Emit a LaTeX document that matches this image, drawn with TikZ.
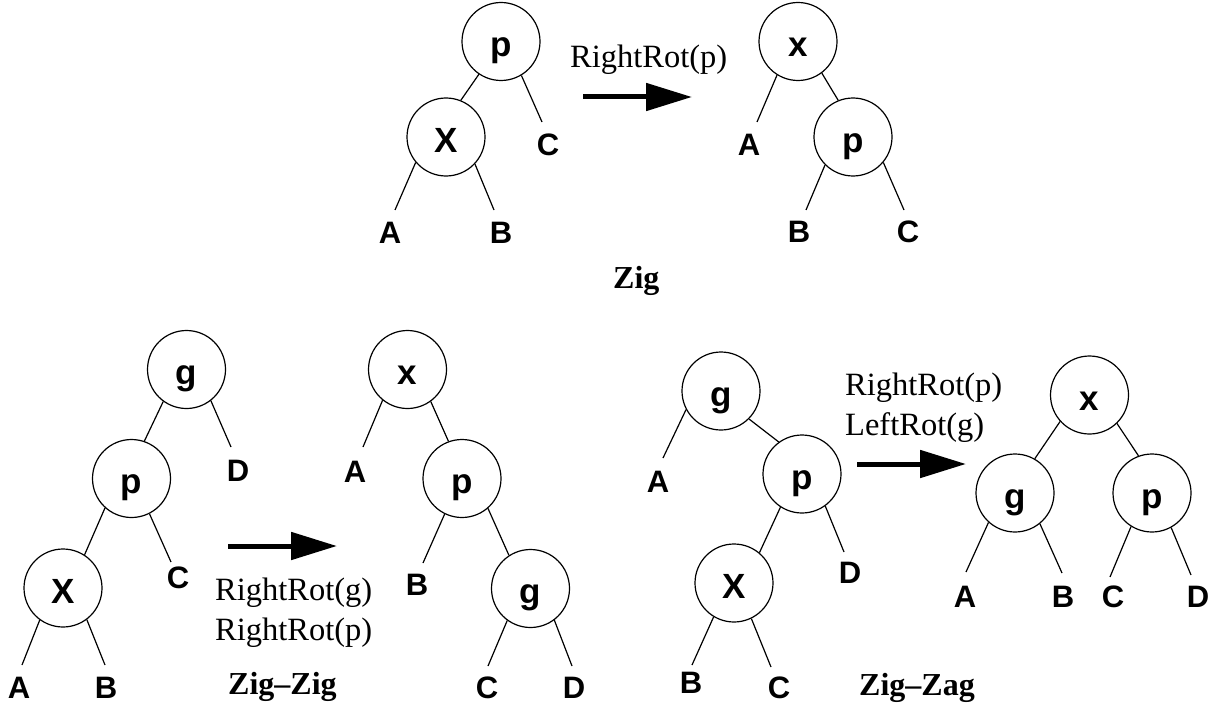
\documentclass[tikz,border=0pt]{standalone}
\usepackage{fontspec}
\setmainfont{Liberation Serif}
\newfontfamily\lsans{Liberation Sans}
\usetikzlibrary{arrows.meta}
\begin{document}
\begin{tikzpicture}[x=1pt,y=-1pt,
  tn/.style={circle,draw,line width=1.2pt,minimum size=78pt,inner sep=0pt,
    text height=30pt,text depth=0pt,font=\lsans\bfseries\fontsize{35}{35}\selectfont},
  lab/.style={inner sep=0pt,font=\lsans\bfseries\fontsize{31}{31}\selectfont},
  conn/.style={line width=1.2pt},
  rottext/.style={inner sep=0pt,anchor=base west,font=\fontsize{32.5}{32.5}\selectfont},
  captext/.style={inner sep=0pt,anchor=base west,font=\bfseries\fontsize{32}{32}\selectfont},
  bigarrow/.style={line width=5pt,-{Triangle[length=46pt,width=27pt]}}]
\useasboundingbox (0,0) rectangle (1212,706);

% ---------- Zig: left tree ----------
\node[tn] (zp) at (501,41.5) {p};
\node[tn] (zX) at (446,137) {X};
\node[lab] (zC) at (548,145) {C};
\node[lab] (zA) at (390,233) {A};
\node[lab] (zB) at (501,233) {B};
\coordinate (zCe) at (542,122);
\coordinate (zAe) at (395,210);
\coordinate (zBe) at (494,210);
\draw[conn] (zp.236) -- (zX.68);
\draw[conn] (zp.301) -- (zCe);
\draw[conn] (zX.220) -- (zAe);
\draw[conn] (zX.317) -- (zBe);

% arrow + label
\coordinate (za1) at (583,97);
\coordinate (za2) at (692,97);
\draw[bigarrow] (za1) -- (za2);
\node[rottext] (zrot) at (570,68) {RightRot(p)};

% ---------- Zig: right tree ----------
\node[tn] (zx2) at (798,41.5) {x};
\node[tn] (zp2) at (853,137) {p};
\node[lab] (zA2) at (749,145) {A};
\node[lab] (zB2) at (799,232) {B};
\node[lab] (zC2) at (908,232) {C};
\coordinate (zA2e) at (757,122);
\coordinate (zB2e) at (806,210);
\coordinate (zC2e) at (904,210);
\draw[conn] (zx2.238) -- (zA2e);
\draw[conn] (zx2.307) -- (zp2.112);
\draw[conn] (zp2.225) -- (zB2e);
\draw[conn] (zp2.320) -- (zC2e);

\node[captext] (zigcap) at (613,288) {Zig};

% ---------- Zig-Zig: left tree ----------
\node[tn] (gg) at (186.5,369.5) {g};
\node[tn] (gp) at (131.5,478.5) {p};
\node[tn] (gX) at (63,588) {X};
\node[lab] (gD) at (238,471) {D};
\node[lab] (gC) at (178,578) {C};
\node[lab] (gA) at (19,688) {A};
\node[lab] (gB) at (106,688) {B};
\coordinate (gDe) at (231,447);
\coordinate (gCe) at (171,562);
\coordinate (gAe) at (22,665);
\coordinate (gBe) at (105,665);
\draw[conn] (gg.234) -- (gp.71);
\draw[conn] (gg.308) -- (gDe);
\draw[conn] (gp.228) -- (gX.57);
\draw[conn] (gp.297) -- (gCe);
\draw[conn] (gX.234) -- (gAe);
\draw[conn] (gX.307) -- (gBe);

\coordinate (ga1) at (228,546);
\coordinate (ga2) at (337,546);
\draw[bigarrow] (ga1) -- (ga2);
\node[rottext] (grot1) at (215,600) {RightRot(g)};
\node[rottext] (grot2) at (215,640) {RightRot(p)};
\node[captext] (gcap) at (228,694) {Zig–Zig};

% ---------- Zig-Zig: right tree ----------
\node[tn] (hx) at (407.5,369.5) {x};
\node[tn] (hp) at (462,478.5) {p};
\node[tn] (hg) at (530.5,588.5) {g};
\node[lab] (hA) at (355,472) {A};
\node[lab] (hB) at (417,585) {B};
\node[lab] (hC) at (487,688) {C};
\node[lab] (hD) at (574,688) {D};
\coordinate (hAe) at (363,447);
\coordinate (hBe) at (423,563);
\coordinate (hCe) at (488,666);
\coordinate (hDe) at (572,666);
\draw[conn] (hx.231) -- (hAe);
\draw[conn] (hx.306) -- (hp.110);
\draw[conn] (hp.244) -- (hBe);
\draw[conn] (hp.311) -- (hg.123);
\draw[conn] (hg.234) -- (hCe);
\draw[conn] (hg.307) -- (hDe);

% ---------- Zig-Zag: left tree ----------
\node[tn] (kg) at (721,391) {g};
\node[tn] (kp) at (802,474) {p};
\node[tn] (kX) at (734,583) {X};
\node[lab] (kA) at (658,482) {A};
\node[lab] (kD) at (850,573) {D};
\node[lab] (kB) at (691,683) {B};
\node[lab] (kC) at (779,688) {C};
\coordinate (kAe) at (663,458);
\coordinate (kDe) at (844,552);
\coordinate (kBe) at (692,665);
\coordinate (kCe) at (771,667);
\draw[conn] (kg.208) -- (kAe);
\draw[conn] (kg.315) -- (kp.126);
\draw[conn] (kp.237) -- (kX.50);
\draw[conn] (kp.306) -- (kDe);
\draw[conn] (kX.239) -- (kBe);
\draw[conn] (kX.296) -- (kCe);

\coordinate (ka1) at (857,464);
\coordinate (ka2) at (966,464);
\draw[bigarrow] (ka1) -- (ka2);
\node[rottext] (krot1) at (845,395) {RightRot(p)};
\node[rottext] (krot2) at (845,435) {LeftRot(g)};
\node[captext] (kcap) at (859,695) {Zig–Zag};

% ---------- Zig-Zag: right tree ----------
\node[tn] (mx) at (1089.5,395) {x};
\node[tn] (mg) at (1015,493) {g};
\node[tn] (mp) at (1152,493) {p};
\node[lab] (mA) at (965,597) {A};
\node[lab] (mB) at (1063,597) {B};
\node[lab] (mC) at (1113,597) {C};
\node[lab] (mD) at (1198,597) {D};
\coordinate (mAe) at (966,572);
\coordinate (mBe) at (1062,573);
\coordinate (mCe) at (1110,577);
\coordinate (mDe) at (1191,575);
\draw[conn] (mx.222) -- (mg.60);
\draw[conn] (mx.314) -- (mp.110);
\draw[conn] (mg.228) -- (mAe);
\draw[conn] (mg.309) -- (mBe);
\draw[conn] (mp.238) -- (mCe);
\draw[conn] (mp.299) -- (mDe);
\end{tikzpicture}
\end{document}
